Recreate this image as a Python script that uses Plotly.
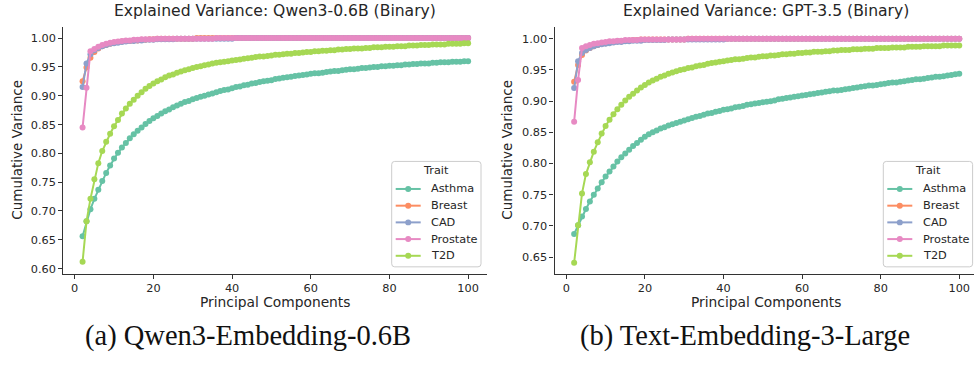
import plotly.graph_objects as go

W, H = 974, 367

TRAITS = ["Asthma", "Breast", "CAD", "Prostate", "T2D"]
COLORS = ["#66c2a5", "#fc8d62", "#8da0cb", "#e78ac3", "#a6d854"]
PCS = list(range(2, 101))
X_TICKS = [0, 20, 40, 60, 80, 100]

PANEL_TITLES = ["Explained Variance: Qwen3-0.6B (Binary)", "Explained Variance: GPT-3.5 (Binary)"]
CAPTIONS = ["(a) Qwen3-Embedding-0.6B", "(b) Text-Embedding-3-Large"]
X_LABEL = "Principal Components"
Y_LABEL = "Cumulative Variance"
LEGEND_TITLE = "Trait"

# ---------------- Qwen3-0.6B (left) ----------------
asthma_qwen = [
    0.656, 0.682, 0.703, 0.721, 0.737, 0.752, 0.766, 0.779, 0.791,
    0.801, 0.810, 0.818, 0.826, 0.833, 0.839, 0.845, 0.851, 0.856, 0.861,
    0.865, 0.869, 0.873, 0.876, 0.880, 0.883, 0.886, 0.889, 0.891, 0.894,
    0.896, 0.898, 0.900, 0.902, 0.904, 0.906, 0.908, 0.910, 0.911, 0.913,
    0.915, 0.916, 0.918, 0.919, 0.921, 0.922, 0.924, 0.925, 0.926, 0.927,
    0.929, 0.930, 0.931, 0.932, 0.933, 0.934, 0.935, 0.936, 0.937, 0.938,
    0.939, 0.939, 0.940, 0.941, 0.942, 0.943, 0.943, 0.944, 0.945, 0.946,
    0.946, 0.947, 0.948, 0.948, 0.949, 0.950, 0.950, 0.951, 0.951, 0.952,
    0.952, 0.953, 0.953, 0.954, 0.954, 0.955, 0.955, 0.956, 0.956, 0.956,
    0.957, 0.957, 0.958, 0.958, 0.958, 0.959, 0.959, 0.959, 0.960, 0.960,
]
breast_qwen = [
    0.925, 0.949, 0.966, 0.976, 0.982, 0.986, 0.988, 0.990, 0.992,
    0.993, 0.994, 0.995, 0.995, 0.996, 0.996, 0.997, 0.997, 0.998, 0.998,
    0.999, 0.999, 0.999, 0.999, 0.999, 0.999, 0.999, 0.999, 0.999, 0.999,
    1.000, 1.000, 1.000, 1.000, 1.000, 1.000, 1.000, 1.000, 1.000, 1.000,
    1.000, 1.000, 1.000, 1.000, 1.000, 1.000, 1.000, 1.000, 1.000, 1.000,
    1.000, 1.000, 1.000, 1.000, 1.000, 1.000, 1.000, 1.000, 1.000, 1.000,
    1.000, 1.000, 1.000, 1.000, 1.000, 1.000, 1.000, 1.000, 1.000, 1.000,
    1.000, 1.000, 1.000, 1.000, 1.000, 1.000, 1.000, 1.000, 1.000, 1.000,
    1.000, 1.000, 1.000, 1.000, 1.000, 1.000, 1.000, 1.000, 1.000, 1.000,
    1.000, 1.000, 1.000, 1.000, 1.000, 1.000, 1.000, 1.000, 1.000, 1.000,
]
cad_qwen = [
    0.915, 0.956, 0.972, 0.979, 0.983, 0.986, 0.988, 0.990, 0.991,
    0.992, 0.993, 0.994, 0.995, 0.995, 0.996, 0.996, 0.997, 0.997, 0.997,
    0.998, 0.998, 0.998, 0.998, 0.998, 0.999, 0.999, 0.999, 0.999, 0.999,
    0.999, 0.999, 0.999, 0.999, 0.999, 0.999, 0.999, 0.999, 0.999, 0.999,
    1.000, 1.000, 1.000, 1.000, 1.000, 1.000, 1.000, 1.000, 1.000, 1.000,
    1.000, 1.000, 1.000, 1.000, 1.000, 1.000, 1.000, 1.000, 1.000, 1.000,
    1.000, 1.000, 1.000, 1.000, 1.000, 1.000, 1.000, 1.000, 1.000, 1.000,
    1.000, 1.000, 1.000, 1.000, 1.000, 1.000, 1.000, 1.000, 1.000, 1.000,
    1.000, 1.000, 1.000, 1.000, 1.000, 1.000, 1.000, 1.000, 1.000, 1.000,
    1.000, 1.000, 1.000, 1.000, 1.000, 1.000, 1.000, 1.000, 1.000, 1.000,
]
prostate_qwen = [
    0.845, 0.914, 0.977, 0.981, 0.985, 0.988, 0.990, 0.992, 0.993,
    0.994, 0.995, 0.996, 0.996, 0.997, 0.997, 0.998, 0.998, 0.998, 0.998,
    0.999, 0.999, 0.999, 0.999, 0.999, 0.999, 0.999, 0.999, 0.999, 0.999,
    0.999, 0.999, 0.999, 0.999, 0.999, 1.000, 1.000, 1.000, 1.000, 1.000,
    1.000, 1.000, 1.000, 1.000, 1.000, 1.000, 1.000, 1.000, 1.000, 1.000,
    1.000, 1.000, 1.000, 1.000, 1.000, 1.000, 1.000, 1.000, 1.000, 1.000,
    1.000, 1.000, 1.000, 1.000, 1.000, 1.000, 1.000, 1.000, 1.000, 1.000,
    1.000, 1.000, 1.000, 1.000, 1.000, 1.000, 1.000, 1.000, 1.000, 1.000,
    1.000, 1.000, 1.000, 1.000, 1.000, 1.000, 1.000, 1.000, 1.000, 1.000,
    1.000, 1.000, 1.000, 1.000, 1.000, 1.000, 1.000, 1.000, 1.000, 1.000,
]
t2d_qwen = [
    0.612, 0.682, 0.721, 0.755, 0.783, 0.804, 0.820, 0.834, 0.847,
    0.858, 0.869, 0.878, 0.886, 0.893, 0.900, 0.906, 0.912, 0.917, 0.921,
    0.925, 0.928, 0.932, 0.935, 0.937, 0.940, 0.942, 0.944, 0.946, 0.948,
    0.950, 0.951, 0.953, 0.954, 0.956, 0.957, 0.958, 0.959, 0.960, 0.961,
    0.962, 0.963, 0.964, 0.965, 0.966, 0.967, 0.968, 0.968, 0.969, 0.970,
    0.971, 0.971, 0.972, 0.973, 0.973, 0.974, 0.974, 0.975, 0.976, 0.976,
    0.977, 0.977, 0.978, 0.978, 0.979, 0.979, 0.980, 0.980, 0.981, 0.981,
    0.982, 0.982, 0.982, 0.983, 0.983, 0.984, 0.984, 0.984, 0.985, 0.985,
    0.985, 0.986, 0.986, 0.986, 0.987, 0.987, 0.987, 0.988, 0.988, 0.988,
    0.989, 0.989, 0.989, 0.989, 0.990, 0.990, 0.990, 0.990, 0.991, 0.991,
]

# ---------------- GPT-3.5 / Text-Embedding-3-Large (right) ----------------
asthma_gpt = [
    0.687, 0.701, 0.715, 0.727, 0.739, 0.750, 0.760, 0.770, 0.779,
    0.787, 0.795, 0.803, 0.810, 0.816, 0.822, 0.828, 0.833, 0.838, 0.843,
    0.847, 0.850, 0.853, 0.856, 0.858, 0.861, 0.863, 0.865, 0.867, 0.869,
    0.871, 0.873, 0.875, 0.876, 0.878, 0.880, 0.881, 0.883, 0.884, 0.886,
    0.887, 0.888, 0.890, 0.891, 0.892, 0.894, 0.895, 0.896, 0.897, 0.898,
    0.899, 0.900, 0.901, 0.903, 0.904, 0.905, 0.906, 0.907, 0.908, 0.909,
    0.910, 0.911, 0.912, 0.913, 0.914, 0.915, 0.916, 0.917, 0.917, 0.918,
    0.919, 0.920, 0.921, 0.922, 0.923, 0.924, 0.925, 0.925, 0.926, 0.927,
    0.928, 0.929, 0.930, 0.930, 0.931, 0.932, 0.933, 0.934, 0.935, 0.935,
    0.936, 0.937, 0.938, 0.939, 0.939, 0.940, 0.941, 0.942, 0.943, 0.944,
]
breast_gpt = [
    0.931, 0.958, 0.974, 0.981, 0.985, 0.988, 0.990, 0.992, 0.993,
    0.994, 0.995, 0.996, 0.996, 0.997, 0.997, 0.998, 0.998, 0.999, 0.999,
    0.999, 0.999, 0.999, 0.999, 0.999, 0.999, 0.999, 0.999, 0.999, 0.999,
    1.000, 1.000, 1.000, 1.000, 1.000, 1.000, 1.000, 1.000, 1.000, 1.000,
    1.000, 1.000, 1.000, 1.000, 1.000, 1.000, 1.000, 1.000, 1.000, 1.000,
    1.000, 1.000, 1.000, 1.000, 1.000, 1.000, 1.000, 1.000, 1.000, 1.000,
    1.000, 1.000, 1.000, 1.000, 1.000, 1.000, 1.000, 1.000, 1.000, 1.000,
    1.000, 1.000, 1.000, 1.000, 1.000, 1.000, 1.000, 1.000, 1.000, 1.000,
    1.000, 1.000, 1.000, 1.000, 1.000, 1.000, 1.000, 1.000, 1.000, 1.000,
    1.000, 1.000, 1.000, 1.000, 1.000, 1.000, 1.000, 1.000, 1.000, 1.000,
]
cad_gpt = [
    0.921, 0.964, 0.977, 0.982, 0.985, 0.988, 0.990, 0.991, 0.992,
    0.993, 0.994, 0.995, 0.995, 0.996, 0.996, 0.997, 0.997, 0.997, 0.998,
    0.998, 0.998, 0.998, 0.998, 0.998, 0.999, 0.999, 0.999, 0.999, 0.999,
    0.999, 0.999, 0.999, 0.999, 0.999, 0.999, 0.999, 0.999, 0.999, 0.999,
    1.000, 1.000, 1.000, 1.000, 1.000, 1.000, 1.000, 1.000, 1.000, 1.000,
    1.000, 1.000, 1.000, 1.000, 1.000, 1.000, 1.000, 1.000, 1.000, 1.000,
    1.000, 1.000, 1.000, 1.000, 1.000, 1.000, 1.000, 1.000, 1.000, 1.000,
    1.000, 1.000, 1.000, 1.000, 1.000, 1.000, 1.000, 1.000, 1.000, 1.000,
    1.000, 1.000, 1.000, 1.000, 1.000, 1.000, 1.000, 1.000, 1.000, 1.000,
    1.000, 1.000, 1.000, 1.000, 1.000, 1.000, 1.000, 1.000, 1.000, 1.000,
]
prostate_gpt = [
    0.867, 0.934, 0.985, 0.988, 0.990, 0.992, 0.993, 0.994, 0.995,
    0.996, 0.996, 0.997, 0.997, 0.998, 0.998, 0.998, 0.998, 0.999, 0.999,
    0.999, 0.999, 0.999, 0.999, 0.999, 0.999, 0.999, 0.999, 0.999, 0.999,
    1.000, 1.000, 1.000, 1.000, 1.000, 1.000, 1.000, 1.000, 1.000, 1.000,
    1.000, 1.000, 1.000, 1.000, 1.000, 1.000, 1.000, 1.000, 1.000, 1.000,
    1.000, 1.000, 1.000, 1.000, 1.000, 1.000, 1.000, 1.000, 1.000, 1.000,
    1.000, 1.000, 1.000, 1.000, 1.000, 1.000, 1.000, 1.000, 1.000, 1.000,
    1.000, 1.000, 1.000, 1.000, 1.000, 1.000, 1.000, 1.000, 1.000, 1.000,
    1.000, 1.000, 1.000, 1.000, 1.000, 1.000, 1.000, 1.000, 1.000, 1.000,
    1.000, 1.000, 1.000, 1.000, 1.000, 1.000, 1.000, 1.000, 1.000, 1.000,
]
t2d_gpt = [
    0.641, 0.701, 0.752, 0.783, 0.802, 0.819, 0.834, 0.848, 0.860,
    0.870, 0.879, 0.887, 0.894, 0.901, 0.907, 0.912, 0.917, 0.922, 0.926,
    0.930, 0.933, 0.936, 0.939, 0.941, 0.944, 0.946, 0.948, 0.950, 0.951,
    0.953, 0.954, 0.956, 0.957, 0.958, 0.960, 0.961, 0.962, 0.963, 0.964,
    0.965, 0.966, 0.967, 0.967, 0.968, 0.969, 0.970, 0.970, 0.971, 0.972,
    0.972, 0.973, 0.973, 0.974, 0.975, 0.975, 0.976, 0.976, 0.977, 0.977,
    0.978, 0.978, 0.979, 0.979, 0.979, 0.980, 0.980, 0.981, 0.981, 0.982,
    0.982, 0.982, 0.983, 0.983, 0.983, 0.984, 0.984, 0.984, 0.985, 0.985,
    0.985, 0.985, 0.986, 0.986, 0.986, 0.986, 0.987, 0.987, 0.987, 0.987,
    0.988, 0.988, 0.988, 0.988, 0.988, 0.989, 0.989, 0.989, 0.989, 0.989,
]

PANELS = [
    [asthma_qwen, breast_qwen, cad_qwen, prostate_qwen, t2d_qwen],
    [asthma_gpt, breast_gpt, cad_gpt, prostate_gpt, t2d_gpt],
]

# ---------------- layout geometry (pixels) ----------------
def px(x):
    return x / W

def py(y):
    return 1 - y / H

AX_TOP, AX_BOT = 27, 275
AX_X = [(63.3, 487.0), (554.5, 974.0)]
X_RANGES = [[-2.9, 104.8], [-3.0, 103.75]]
Y_RANGES = [[0.5915, 1.0195], [0.6236, 1.0191]]
Y_TICKS = [
    [0.60, 0.65, 0.70, 0.75, 0.80, 0.85, 0.90, 0.95, 1.00],
    [0.65, 0.70, 0.75, 0.80, 0.85, 0.90, 0.95, 1.00],
]
TITLE_X = [275, 766]
YLABEL_X = [17.5, 507.5]
CAPTION_X = [248, 745]
LEG_BOX = [(391.7, 481.0), (883.3, 972.6)]
LEG_TOP, LEG_BOT = 162.3, 268.3
LEG_TITLE_Y = 171.7
LEG_ROW_Y = [190.0, 206.8, 223.6, 240.4, 257.2]

FONT = "DejaVu Sans"
TXT = "#262626"
AXC = "#333333"

fig = go.Figure()
for p in range(2):
    xa = "x" if p == 0 else "x2"
    ya = "y" if p == 0 else "y2"
    for name, col, vals in zip(TRAITS, COLORS, PANELS[p]):
        fig.add_trace(go.Scatter(
            x=PCS, y=vals, name=name, mode="lines+markers",
            line=dict(color=col, width=2),
            marker=dict(color=col, size=6),
            xaxis=xa, yaxis=ya, showlegend=False,
        ))

def xaxis_style(p):
    return dict(
        domain=[px(AX_X[p][0]), px(AX_X[p][1])], range=X_RANGES[p],
        anchor="y" if p == 0 else "y2",
        tickmode="array", tickvals=X_TICKS, ticktext=[str(t) for t in X_TICKS],
        showline=True, linecolor=AXC, linewidth=1.1,
        ticks="outside", ticklen=4, tickwidth=1, tickcolor=AXC,
        showgrid=False, zeroline=False,
        tickfont=dict(family=FONT, size=11.3, color=TXT),
    )

def yaxis_style(p):
    return dict(
        domain=[py(AX_BOT), py(AX_TOP)], range=Y_RANGES[p],
        anchor="x" if p == 0 else "x2",
        tickmode="array", tickvals=Y_TICKS[p], ticktext=["%.2f" % t for t in Y_TICKS[p]],
        showline=True, linecolor=AXC, linewidth=1.1,
        ticks="outside", ticklen=4, tickwidth=1, tickcolor=AXC,
        showgrid=False, zeroline=False,
        tickfont=dict(family=FONT, size=11.3, color=TXT),
    )

annotations = []
shapes = []
for p in range(2):
    annotations.append(dict(
        text=PANEL_TITLES[p], x=px(TITLE_X[p]), y=py(11), xref="paper", yref="paper",
        xanchor="center", yanchor="middle", showarrow=False,
        font=dict(family=FONT, size=15.6, color=TXT),
    ))
    annotations.append(dict(
        text=X_LABEL, x=px(TITLE_X[p]), y=py(304), xref="paper", yref="paper",
        xanchor="center", yanchor="middle", showarrow=False,
        font=dict(family=FONT, size=13.8, color=TXT),
    ))
    annotations.append(dict(
        text=Y_LABEL, x=px(YLABEL_X[p]), y=py((AX_TOP + AX_BOT) / 2), xref="paper", yref="paper",
        xanchor="center", yanchor="middle", showarrow=False, textangle=-90,
        font=dict(family=FONT, size=13.5, color=TXT),
    ))
    annotations.append(dict(
        text=CAPTIONS[p], x=px(CAPTION_X[p]), y=py(338), xref="paper", yref="paper",
        xanchor="center", yanchor="middle", showarrow=False,
        font=dict(family="Liberation Serif", size=28.5, color="#111111"),
    ))

    # legend (matplotlib-style box)
    x0, x1 = LEG_BOX[p]
    y0, y1 = LEG_TOP, LEG_BOT
    r = 3
    path = (
        f"M {px(x0 + r)},{py(y0)} L {px(x1 - r)},{py(y0)} "
        f"Q {px(x1)},{py(y0)} {px(x1)},{py(y0 + r)} "
        f"L {px(x1)},{py(y1 - r)} Q {px(x1)},{py(y1)} {px(x1 - r)},{py(y1)} "
        f"L {px(x0 + r)},{py(y1)} Q {px(x0)},{py(y1)} {px(x0)},{py(y1 - r)} "
        f"L {px(x0)},{py(y0 + r)} Q {px(x0)},{py(y0)} {px(x0 + r)},{py(y0)} Z"
    )
    shapes.append(dict(type="path", path=path, xref="paper", yref="paper",
                       fillcolor="rgba(255,255,255,0.8)",
                       line=dict(color="#cccccc", width=1), layer="above"))
    annotations.append(dict(
        text=LEGEND_TITLE, x=px((x0 + x1) / 2), y=py(LEG_TITLE_Y), xref="paper", yref="paper",
        xanchor="center", yanchor="middle", showarrow=False,
        font=dict(family=FONT, size=11.3, color=TXT),
    ))
    for name, col, ry in zip(TRAITS, COLORS, LEG_ROW_Y):
        hx0, hx1 = x0 + 4, x0 + 29
        shapes.append(dict(type="line", xref="paper", yref="paper",
                           x0=px(hx0), x1=px(hx1), y0=py(ry), y1=py(ry),
                           line=dict(color=col, width=2), layer="above"))
        cx = (hx0 + hx1) / 2
        shapes.append(dict(type="circle", xref="paper", yref="paper",
                           x0=px(cx - 3), x1=px(cx + 3), y0=py(ry + 3), y1=py(ry - 3),
                           fillcolor=col, line=dict(color=col, width=0), layer="above"))
        annotations.append(dict(
            text=name, x=px(x0 + 37.5), y=py(ry), xref="paper", yref="paper",
            xanchor="left", yanchor="middle", showarrow=False,
            font=dict(family=FONT, size=11.3, color=TXT),
        ))

fig.update_layout(
    width=W, height=H,
    margin=dict(l=0, r=0, t=0, b=0),
    paper_bgcolor="white", plot_bgcolor="white",
    showlegend=False,
    xaxis=xaxis_style(0), yaxis=yaxis_style(0),
    xaxis2=xaxis_style(1), yaxis2=yaxis_style(1),
    annotations=annotations, shapes=shapes,
)

fig.write_html(
    "out.html",
    config={"displayModeBar": False},
    post_script="document.body.style.margin='0px';document.body.style.padding='0px';",
)
